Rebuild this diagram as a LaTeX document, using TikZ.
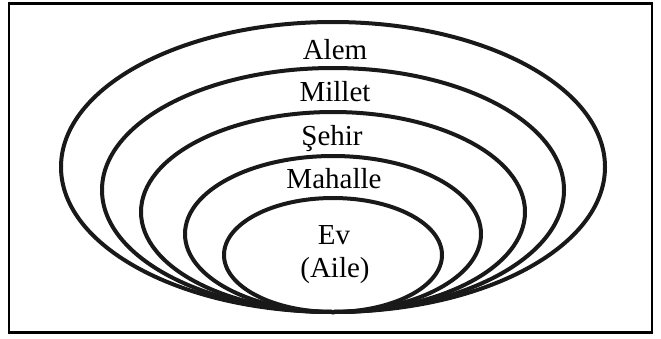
\documentclass[tikz,border=0pt]{standalone}
\usepackage{fontspec}
\setmainfont{Liberation Serif}
\usetikzlibrary{positioning}

\begin{document}
\begin{tikzpicture}[
    x=1pt, y=-1pt,
    frameline/.style = {line width=2.6pt, draw=black},
    ring/.style      = {line width=4pt, draw=black!90},
    ringlbl/.style   = {font=\fontsize{29}{33}\selectfont, text=black,
                        inner sep=0pt, anchor=base},
]

%% ============================================================
%% COORDINATES
%% ============================================================
\def\xMid{333}
\def\yFoot{312}

\useasboundingbox (0,0) rectangle (661,338);

%% ============================================================
%% FRAME
%% ============================================================
\draw[frameline] (9,3.5) rectangle (652,332.5);

%% ============================================================
%% NESTED RINGS (all touching at the foot)
%% ============================================================
\draw[ring] (\xMid, \yFoot-145) ellipse [x radius=272, y radius=145];
\draw[ring] (\xMid, \yFoot-122) ellipse [x radius=231, y radius=122];
\draw[ring] (\xMid, \yFoot-100) ellipse [x radius=192, y radius=100];
\draw[ring] (\xMid, \yFoot-78)  ellipse [x radius=148, y radius=78];
\draw[ring] (\xMid, \yFoot-57)  ellipse [x radius=109, y radius=57];

%% ============================================================
%% LABELS
%% ============================================================
\node[ringlbl] (alem)    at (335, 59)  {Alem};
\node[ringlbl] (millet)  at (335, 101) {Millet};
\node[ringlbl] (sehir)   at (332, 145) {Şehir};
\node[ringlbl] (mahalle) at (334, 188) {Mahalle};
\node[ringlbl] (ev)      at (334, 244) {Ev};
\node[ringlbl] (aile)    at (335, 277) {(Aile)};

\end{tikzpicture}
\end{document}
